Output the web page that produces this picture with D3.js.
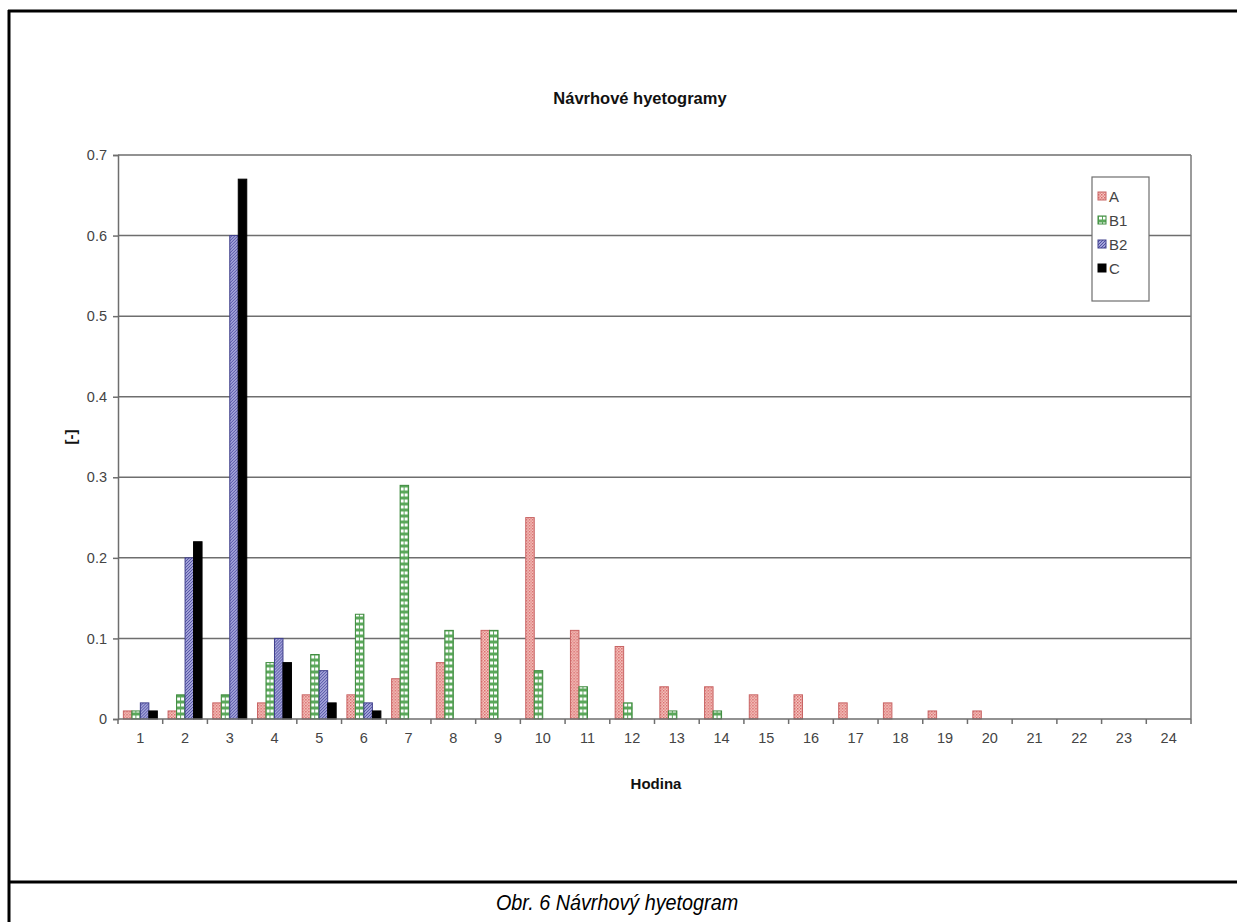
<!DOCTYPE html>
<html>
<head>
<meta charset="utf-8">
<script src="https://cdn.jsdelivr.net/npm/d3@7"></script>
<style>
  html, body { margin: 0; padding: 0; background: #fff; }
  svg { display: block; }
</style>
</head>
<body>
<svg id="chart" width="1237" height="922"></svg>
<script>
// Hours on the x axis
const hours = ["1","2","3","4","5","6","7","8","9","10","11","12","13","14","15","16","17","18","19","20","21","22","23","24"];
// Series names
const seriesNames = ["A", "B1", "B2", "C"];
// Rainfall shares per hour for each design hyetograph
const valuesA  = [0.01,0.01,0.02,0.02,0.03,0.03,0.05,0.07,0.11,0.25,0.11,0.09,0.04,0.04,0.03,0.03,0.02,0.02,0.01,0.01,0,0,0,0];
const valuesB1 = [0.01,0.03,0.03,0.07,0.08,0.13,0.29,0.11,0.11,0.06,0.04,0.02,0.01,0.01,0,0,0,0,0,0,0,0,0,0];
const valuesB2 = [0.02,0.20,0.60,0.10,0.06,0.02,0,0,0,0,0,0,0,0,0,0,0,0,0,0,0,0,0,0];
const valuesC  = [0.01,0.22,0.67,0.07,0.02,0.01,0,0,0,0,0,0,0,0,0,0,0,0,0,0,0,0,0,0];
// Y axis ticks
const yTicks = [0, 0.1, 0.2, 0.3, 0.4, 0.5, 0.6, 0.7];
const yTickLabels = ["0", "0.1", "0.2", "0.3", "0.4", "0.5", "0.6", "0.7"];

const seriesValues = [valuesA, valuesB1, valuesB2, valuesC];
const font = "'Liberation Sans', Arial, sans-serif";

const svg = d3.select("#chart");

// Fill patterns for the bars
const defs = svg.append("defs");
// A: pink fine checker
const pA = defs.append("pattern").attr("id", "patA").attr("patternUnits", "userSpaceOnUse")
  .attr("width", 3).attr("height", 3);
pA.append("rect").attr("width", 3).attr("height", 3).attr("fill", "#f6c6c2");
pA.append("rect").attr("width", 1.5).attr("height", 1.5).attr("fill", "#d86a6a");
pA.append("rect").attr("x", 1.5).attr("y", 1.5).attr("width", 1.5).attr("height", 1.5).attr("fill", "#e08a86");
// B1: green with white dots
const pB1 = defs.append("pattern").attr("id", "patB1").attr("patternUnits", "userSpaceOnUse")
  .attr("width", 4).attr("height", 6);
pB1.append("rect").attr("width", 4).attr("height", 6).attr("fill", "#5aa85a");
pB1.append("rect").attr("x", 1).attr("y", 1.5).attr("width", 3).attr("height", 3).attr("fill", "#ffffff");
// B2: purple-blue diagonal hatch
const pB2 = defs.append("pattern").attr("id", "patB2").attr("patternUnits", "userSpaceOnUse")
  .attr("width", 3).attr("height", 3);
pB2.append("rect").attr("width", 3).attr("height", 3).attr("fill", "#c8c8f0");
pB2.append("path").attr("d", "M0,3 L3,0 M-1,1 L1,-1 M2,4 L4,2").attr("stroke", "#4a4aa0").attr("stroke-width", 1.1);

const fills = ["url(#patA)", "url(#patB1)", "url(#patB2)", "#000000"];
const strokes = ["#c86464", "#3d8a3d", "#40408c", "#000000"];

// Outer frame with caption cell
svg.append("line").attr("x1", 9).attr("x2", 9).attr("y1", 10).attr("y2", 922).attr("stroke", "#000").attr("stroke-width", 3);
svg.append("line").attr("x1", 8).attr("x2", 1237).attr("y1", 11).attr("y2", 11).attr("stroke", "#000").attr("stroke-width", 3);
svg.append("line").attr("x1", 8).attr("x2", 1237).attr("y1", 882).attr("y2", 882).attr("stroke", "#000").attr("stroke-width", 3);

// Plot area
const plot = { left: 118, right: 1191, top: 155, bottom: 719 };

const x = d3.scaleBand().domain(hours).range([plot.left, plot.right]).paddingInner(0).paddingOuter(0);
const y = d3.scaleLinear().domain([0, 0.7]).range([plot.bottom, plot.top]);
const groupWidth = x.bandwidth() * 0.76;
const xs = d3.scaleBand().domain(seriesNames).range([0, groupWidth]).padding(0);

// Horizontal gridlines
svg.append("g").selectAll("line").data(yTicks.filter(d => d > 0)).join("line")
  .attr("x1", plot.left).attr("x2", plot.right)
  .attr("y1", d => y(d)).attr("y2", d => y(d))
  .attr("stroke", "#6e6e6e").attr("stroke-width", 1.5);

// Plot area right border
svg.append("line").attr("x1", plot.right).attr("x2", plot.right)
  .attr("y1", plot.top).attr("y2", plot.bottom)
  .attr("stroke", "#7a7a7a").attr("stroke-width", 1.5);

// Bars
const groups = svg.append("g").selectAll("g").data(hours).join("g")
  .attr("transform", d => `translate(${x(d) + (x.bandwidth() - groupWidth) / 2},0)`);
groups.selectAll("rect")
  .data((h, i) => seriesNames.map((s, k) => ({ s, k, v: seriesValues[k][i] })).filter(d => d.v > 0))
  .join("rect")
  .attr("x", d => xs(d.s))
  .attr("width", xs.bandwidth())
  .attr("y", d => y(d.v))
  .attr("height", d => y(0) - y(d.v))
  .attr("fill", d => fills[d.k])
  .attr("stroke", d => strokes[d.k])
  .attr("stroke-width", 1);

// Y axis
const yAxis = d3.axisLeft(y).tickValues(yTicks).tickFormat((d, i) => yTickLabels[i]).tickSize(5).tickPadding(6);
const gy = svg.append("g").attr("transform", `translate(${plot.left},0)`).call(yAxis);
gy.select(".domain").attr("stroke", "#6e6e6e").attr("stroke-width", 1.5);
gy.selectAll(".tick line").attr("stroke", "#6e6e6e").attr("stroke-width", 1.5);
gy.selectAll(".tick text").attr("font-family", font).attr("font-size", 14.5).attr("fill", "#444");

// X axis with ticks at category boundaries
const gx = svg.append("g").attr("transform", `translate(0,${plot.bottom})`);
gx.append("line").attr("x1", plot.left).attr("x2", plot.right).attr("y1", 0).attr("y2", 0)
  .attr("stroke", "#6e6e6e").attr("stroke-width", 1.5);
gx.selectAll("line.tk").data(hours.concat(["end"])).join("line").attr("class", "tk")
  .attr("x1", (d, i) => plot.left + i * x.bandwidth()).attr("x2", (d, i) => plot.left + i * x.bandwidth())
  .attr("y1", 0).attr("y2", 5).attr("stroke", "#6e6e6e").attr("stroke-width", 1.5);
gx.selectAll("text").data(hours).join("text")
  .attr("x", d => x(d) + x.bandwidth() / 2).attr("y", 24)
  .attr("text-anchor", "middle").attr("font-family", font).attr("font-size", 14.5).attr("fill", "#444")
  .text(d => d);

// Titles
svg.append("text").attr("x", 640).attr("y", 104).attr("text-anchor", "middle")
  .attr("font-family", font).attr("font-size", 16.5).attr("font-weight", "bold").attr("fill", "#111")
  .text("Návrhové hyetogramy");
svg.append("text").attr("x", 656).attr("y", 789).attr("text-anchor", "middle")
  .attr("font-family", font).attr("font-size", 15).attr("font-weight", "bold").attr("fill", "#111")
  .text("Hodina");
svg.append("text").attr("transform", "translate(76,437) rotate(-90)").attr("text-anchor", "middle")
  .attr("font-family", font).attr("font-size", 15).attr("font-weight", "bold").attr("fill", "#111")
  .text("[-]");

// Legend
const lg = svg.append("g");
lg.append("rect").attr("x", 1092).attr("y", 177).attr("width", 57).attr("height", 124)
  .attr("fill", "#fff").attr("stroke", "#6e6e6e").attr("stroke-width", 1.2);
const items = lg.selectAll("g").data(seriesNames).join("g")
  .attr("transform", (d, i) => `translate(1098,${197 + i * 24})`);
items.append("rect").attr("x", 0).attr("y", -5).attr("width", 8).attr("height", 8)
  .attr("fill", (d, i) => fills[i]).attr("stroke", (d, i) => strokes[i]).attr("stroke-width", 1);
items.append("text").attr("x", 11).attr("y", 4.5).attr("font-family", font).attr("font-size", 15).attr("fill", "#444")
  .text(d => d);

// Caption
svg.append("text").attr("transform", "translate(617,910) scale(0.9,1)").attr("text-anchor", "middle")
  .attr("font-family", "'Liberation Sans Narrow', 'Arial Narrow', sans-serif").attr("font-style", "italic").attr("font-size", 22).attr("fill", "#000")
  .text("Obr. 6 Návrhový hyetogram");
</script>
</body>
</html>
